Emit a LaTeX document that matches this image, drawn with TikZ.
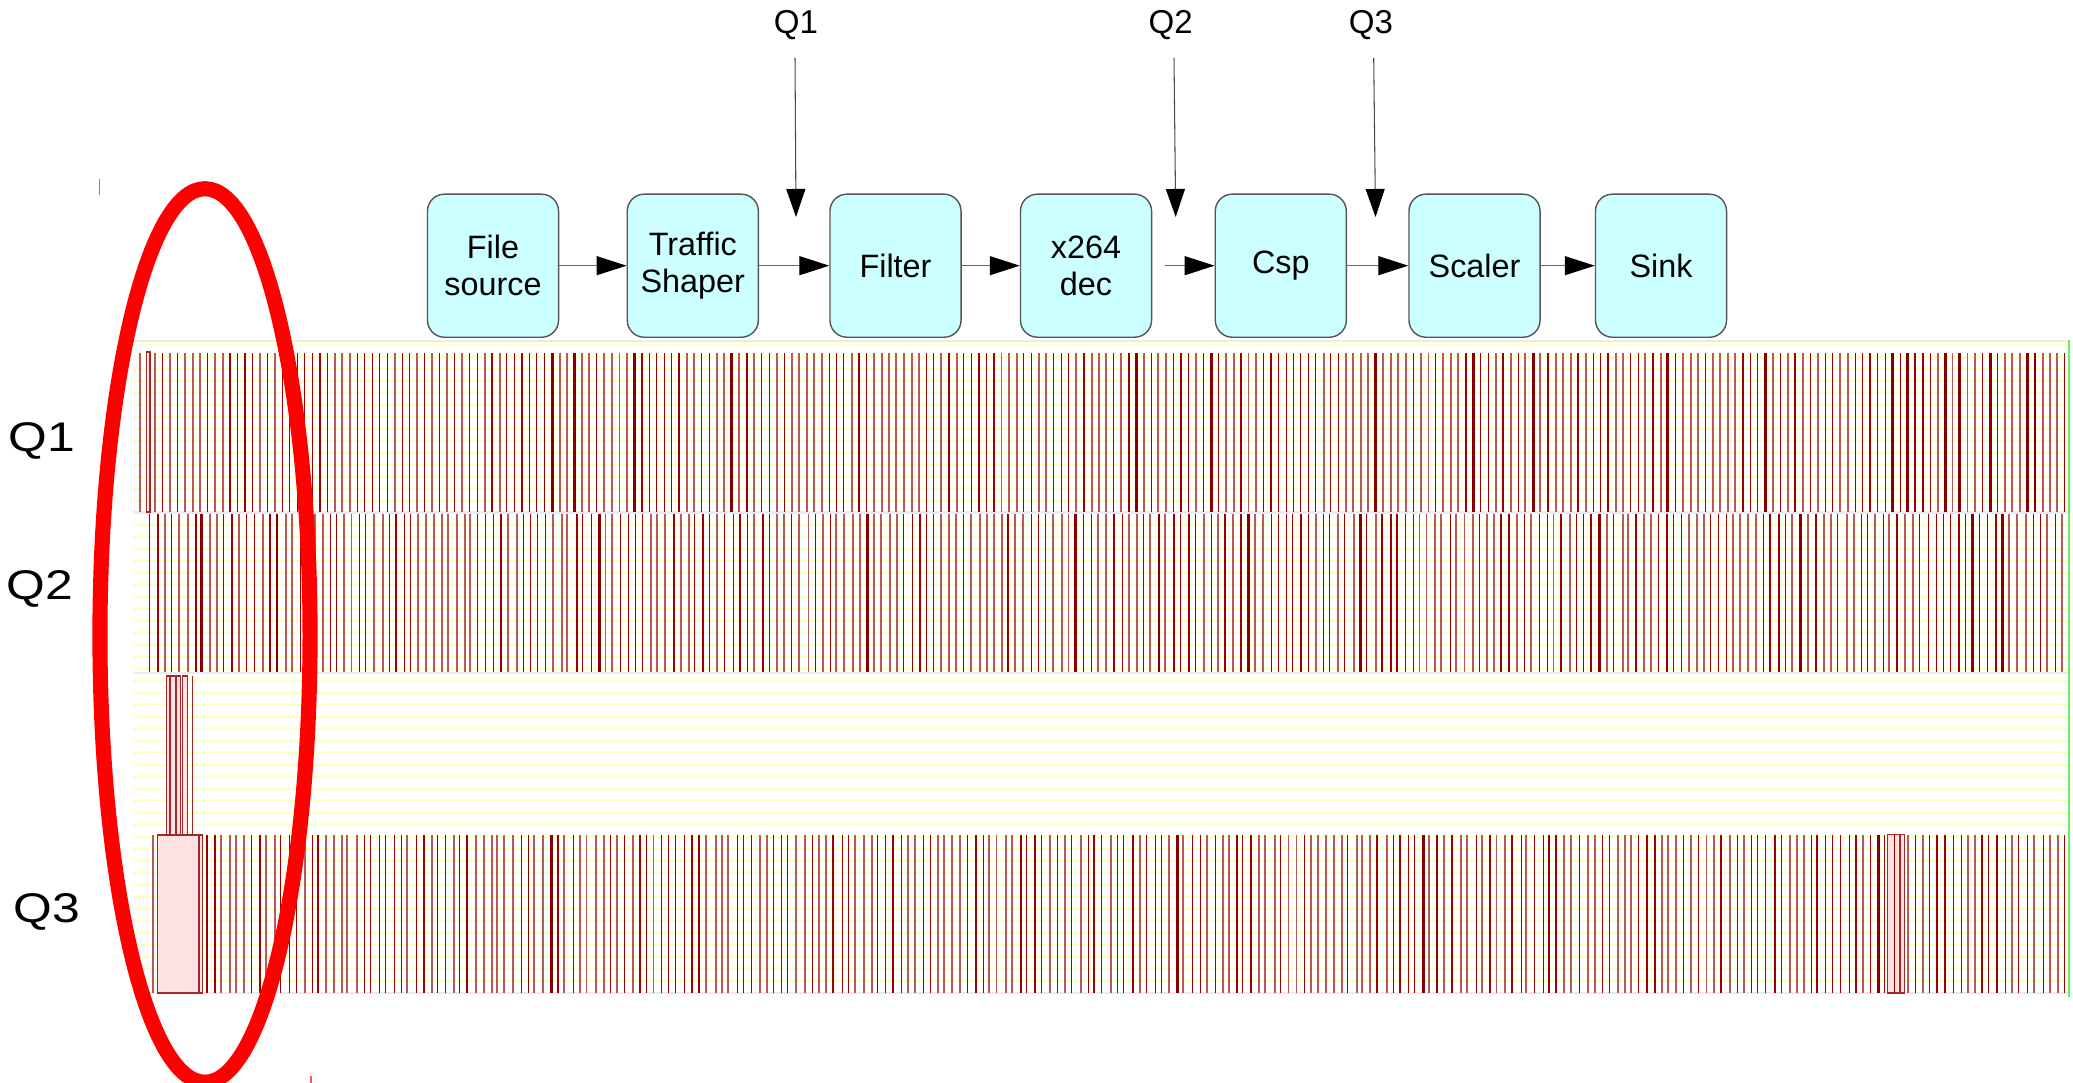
\documentclass[tikz,border=0pt]{standalone}
\usepackage{fontspec}
\setmainfont{Liberation Sans}
\usepackage{graphicx}
\usetikzlibrary{arrows.meta}

\definecolor{boxfill}{RGB}{204,255,255}
\definecolor{boxline}{RGB}{85,85,85}
\definecolor{gridyel}{RGB}{255,255,185}
\definecolor{sepgray}{RGB}{235,235,235}
\definecolor{bardk}{RGB}{155,0,0}
\definecolor{barlt}{RGB}{180,90,90}
\definecolor{pulsefill}{RGB}{255,226,226}
\definecolor{pulseline}{RGB}{165,40,40}
\definecolor{endmark}{RGB}{100,240,100}
\definecolor{ring}{RGB}{255,0,0}
\definecolor{handle}{RGB}{240,90,90}

\begin{document}
\begin{tikzpicture}[x=0.01cm,y=-0.01cm,
  stage/.style={draw=boxline, line width=0.4pt, fill=boxfill, rounded corners=0.17cm,
    minimum width=1.31cm, minimum height=1.43cm, align=center, inner sep=0pt,
    font=\fontsize{9.2}{10.6}\selectfont},
  flow/.style={draw=black!60, line width=0.35pt, -{Triangle[length=0.3cm,width=0.19cm,color=black]}},
  probe/.style={draw=black!70, line width=0.3pt, -{Triangle[length=0.28cm,width=0.19cm,color=black]}},
  qtop/.style={font=\fontsize{9.4}{11}\selectfont},
  qside/.style={font=\fontsize{11.8}{14}\selectfont},
  gridline/.style={draw=gridyel, line width=0.3pt},
  sepline/.style={draw=sepgray, line width=0.6pt},
  bardark/.style={draw=bardk, line width=0.36pt},
  barlight/.style={draw=barlt, line width=0.55pt},
  barheavy/.style={draw=bardk!85!black, line width=0.8pt},
  pulsebox/.style={draw=pulseline, fill=pulsefill, line width=0.3pt},
]
\useasboundingbox (0,0) rectangle (2073,1083);

% ---------- processing pipeline ----------
\node[stage] (fs) at (493,265.7)  {File\\source};
\node[stage] (ts) at (692.8,265.7) {Traffic\\Shaper};
\node[stage] (fl) at (895.5,265.7) {Filter};
\node[stage] (xd) at (1086,265.7)  {x264\\dec};
\node[stage] (cs) at (1280.8,265.7) {Csp};
\node[stage] (sc) at (1474.5,265.7) {Scaler};
\node[stage] (sk) at (1661,265.7)  {Sink};

\draw[flow] (fs) -- (ts);
\draw[flow] (ts) -- (fl);
\draw[flow] (fl) -- (xd);
\draw[flow, shorten <=3.5pt] (xd) -- (cs);
\draw[flow] (cs) -- (sc);
\draw[flow] (sc) -- (sk);

% queue probes
\node[qtop] (q1) at (796,25) {Q1};
\node[qtop] (q2) at (1170.6,25) {Q2};
\node[qtop] (q3) at (1371,25) {Q3};
\coordinate (q1a) at (795,58);   \coordinate (q1b) at (796,217);
\coordinate (q2a) at (1174,58);  \coordinate (q2b) at (1175.7,217);
\coordinate (q3a) at (1373.7,58); \coordinate (q3b) at (1375.5,217);
\draw[probe] (q1a) -- (q1b);
\draw[probe] (q2a) -- (q2b);
\draw[probe] (q3a) -- (q3b);

% ---------- queue occupancy plot ----------
\node[qside] (l1) at (42,441) {\scalebox{1.2}[1]{Q1}};
\node[qside] (l2) at (40,589) {\scalebox{1.2}[1]{Q2}};
\node[qside] (l3) at (47,912) {\scalebox{1.2}[1]{Q3}};

% background grid
\foreach \k in {0,...,54}{
  \draw[gridline] (133,345+12*\k) -- (2069,345+12*\k);
}
\foreach \yy in {341,512.5,673,993}{
  \draw[sepline] (133,\yy) -- (2069,\yy);
}

\pgfmathsetseed{11}
% Q1 samples
\foreach \i in {0,...,257}{
  \pgfmathsetmacro\xx{140+7.49*\i+0.3*rand}
  \pgfmathsetmacro\r{rnd}
  \ifdim\r pt<0.03pt \def\bs{barheavy}\else\ifdim\r pt<0.5pt \def\bs{bardark}\else\def\bs{barlight}\fi\fi
  \draw[\bs] (\xx,353) -- (\xx,512);
}
\draw[pulsebox] (146.7,512) rectangle (150,352);

% Q2 samples
\foreach \i in {0,...,256}{
  \pgfmathsetmacro\xx{150+7.47*\i+1.2*rand}
  \pgfmathsetmacro\r{rnd}
  \ifdim\r pt<0.03pt \def\bs{barheavy}\else\ifdim\r pt<0.5pt \def\bs{bardark}\else\def\bs{barlight}\fi\fi
  \draw[\bs] (\xx,514) -- (\xx,672);
}

% Q3 samples
\draw[barlight] (152.7,835) -- (152.7,993);
\foreach \i in {0,...,249}{
  \pgfmathsetmacro\xx{207+7.46*\i+1.4*rand}
  \pgfmathsetmacro\r{rnd}
  \ifdim\r pt<0.03pt \def\bs{barheavy}\else\ifdim\r pt<0.5pt \def\bs{bardark}\else\def\bs{barlight}\fi\fi
  \draw[\bs] (\xx,835) -- (\xx,993);
}
% start-up burst in Q3
\draw[pulsebox] (157.7,993) rectangle (198.3,835);
\draw[pulsebox] (166.7,835) rectangle (169.3,676);
\draw[pulsebox] (170.7,835) rectangle (180.7,676);
\draw[pulseline, line width=0.3pt] (176,835) -- (176,676);
\draw[pulsebox] (182.7,835) rectangle (187.3,676);
\draw[pulseline, line width=0.4pt] (192.7,835) -- (192.7,676);
\draw[pulsebox] (199.5,993) rectangle (202.5,835);
% later burst in Q3
\draw[pulsebox] (1887.7,993) rectangle (1899.3,834.3);
\draw[bardark] (1894.3,993) -- (1894.3,834.3);
\draw[pulsebox] (1900,993) rectangle (1904.3,834.3);

% end of trace
\draw[draw=endmark, line width=0.6pt] (2069,340) -- (2069,997);

% highlight around start-up phase
\draw[draw=ring, line width=4.3pt] (205,635.5) ellipse [x radius=1.05cm, y radius=4.465cm];
\draw[draw=handle, line width=0.35pt] (99.3,179) -- (99.3,195);
\draw[draw=handle, line width=0.35pt] (311,1076) -- (311,1083);
\end{tikzpicture}
\end{document}
